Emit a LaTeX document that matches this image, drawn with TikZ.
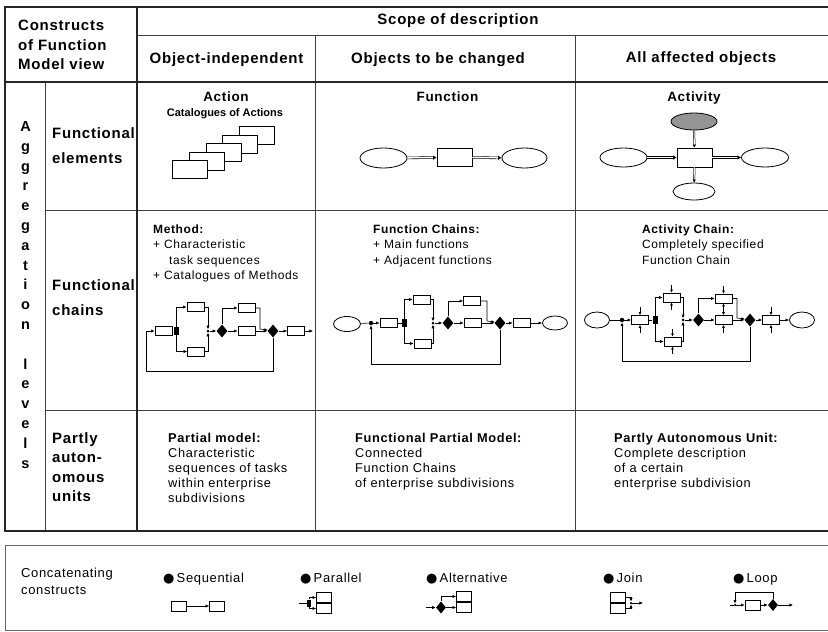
\documentclass[tikz,border=0pt]{standalone}
\usepackage{fontspec}
\setmainfont{Liberation Sans}[LetterSpace=5]
\newfontfamily\plainsans{Liberation Sans}
\newfontfamily\dvs{DejaVu Sans}
\usetikzlibrary{shapes.geometric,arrows.meta,calc}
\newcommand\fHd{\fontsize{15}{19.5}\selectfont\bfseries}
\newcommand\fRow{\fontsize{15}{25}\selectfont\bfseries}
\newcommand\fRowb{\fontsize{15}{19.5}\selectfont\bfseries}
\newcommand\fBody{\fontsize{12}{15.5}\selectfont}
\newcommand\fPart{\fontsize{12.8}{15}\selectfont}
\newcommand\fTit{\fontsize{13.5}{16}\selectfont\bfseries}
\newcommand\fLeg{\fontsize{13}{16.5}\selectfont}
\begin{document}
\begin{tikzpicture}[x=1pt,y=-1pt,
  thickl/.style={line width=2.3pt,black!85},
  thinl/.style={line width=0.9pt,black!75},
  fb/.style={draw,fill=white,line width=0.7pt,minimum width=17pt,minimum height=9pt,inner sep=0pt},
  lb/.style={draw,fill=white,line width=0.7pt,minimum width=15pt,minimum height=10pt,inner sep=0pt},
  sq/.style={fill=black,minimum width=5pt,minimum height=8pt,inner sep=0pt},
  dm/.style={diamond,fill=black,minimum width=11pt,minimum height=13pt,inner sep=0pt},
  jn/.style={circle,fill=black,minimum size=3pt,inner sep=0pt},
  el/.style={ellipse,draw,line width=0.8pt,fill=white,inner sep=0pt},
  bigbox/.style={draw,fill=white,line width=0.8pt,inner sep=0pt,minimum width=35pt,minimum height=18pt},
  ar/.style={line width=0.6pt,-{Latex[length=3.6pt,width=3.2pt]}},
  ln/.style={line width=0.6pt},
  dar/.style={double,double distance=1.4pt,line width=0.55pt,-{Latex[length=3.5pt,width=4.5pt]}},
  vdar/.style={double,double distance=1pt,line width=0.5pt,-{Latex[length=3pt,width=3.5pt]}},
  stub/.style={line width=0.6pt,-{Latex[length=3pt,width=3pt]}},
  hd/.style={font=\fHd,inner sep=0pt},
  tx/.style={font=\fBody,inner sep=0pt,align=left,anchor=north west},
  px/.style={font=\fPart,inner sep=0pt,align=left,anchor=north west},
  tt/.style={font=\fTit,inner sep=0pt,anchor=base},
  lg/.style={font=\fLeg,inner sep=0pt,anchor=base west}
]
\useasboundingbox (0,0) rectangle (828,632);
\fill[white] (0,0) rectangle (828,632);

% ---------------- table lines
\draw[thinl] (137,35) -- (830,35);
\draw[thinl] (315,35) -- (315,531);
\draw[thinl] (575,35) -- (575,531);
\draw[thinl] (45,82) -- (45,531);
\draw[thinl] (45,210) -- (830,210);
\draw[thinl] (45,410) -- (830,410);
\draw[thickl] (137,7) -- (137,531);
\draw[thickl] (5,82) -- (830,82);
\draw[thickl] (830,7) -- (5,7) -- (5,531);
\draw[line width=2.8pt,black!85] (3.6,531) -- (830,531);

% ---------------- header texts
\node[hd,anchor=north west,align=left] (cons) at (18,20) {Constructs\\of Function\\Model view};
\node[hd,anchor=base] (scope) at (458,24) {Scope of description};
\node[hd,anchor=base] (col1) at (226.5,63.5) {Object-independent};
\node[hd,anchor=base] (col2) at (438,63.5) {Objects to be changed};
\node[hd,anchor=base] (col3) at (701,62) {All affected objects};

% vertical "Aggregation levels"
\foreach \c [count=\i from 0] in {A,g,g,r,e,g,a,t,i,o,n,{},l,e,v,e,l,s}
  \node[font=\fontsize{14.5}{16}\selectfont\bfseries,inner sep=0pt,anchor=base] (ag\i) at (25.5,{131.5+19.8*\i}) {\c};

% row labels
\node[font=\fRow,inner sep=0pt,align=left,anchor=north west] (row1) at (52,127.6) {Functional\\elements};
\node[font=\fRow,inner sep=0pt,align=left,anchor=north west] (row2) at (52,279.1) {Functional\\chains};
\node[font=\fRowb,inner sep=0pt,align=left,anchor=north west] (row3) at (52,432) {Partly\\auton-\\omous\\units};

% ---------------- functional elements
\node[tt] (tact) at (226,101.7) {Action};
\node[font=\fontsize{11}{13}\selectfont\plainsans\bfseries,inner sep=0pt,anchor=base] (tcat) at (225,116) {Catalogues of Actions};
\foreach \k in {4,3,2,1,0}
  \node[bigbox] (acr\k) at ({190+16.7*\k},{169.5-8.5*\k}) {};

\node[tt] (tfun) at (447.5,101.7) {Function};
\node[el,minimum width=47pt,minimum height=20pt] (fnl) at (383.5,158) {};
\node[bigbox] (fnr) at (454.5,157.5) {};
\node[el,minimum width=45pt,minimum height=20pt] (fnrt) at (524.5,158) {};
\draw[dar] (fnl) -- (fnr);
\draw[dar] (fnr) -- (fnrt);

\node[tt] (tacv) at (694,101.5) {Activity};
\node[el,minimum width=46pt,minimum height=17pt,fill=black!42] (acsh) at (694,121.5) {};
\node[bigbox,minimum height=19pt] (acr) at (694.5,157.5) {};
\node[el,minimum width=47pt,minimum height=19pt] (acl) at (623.5,157.5) {};
\node[el,minimum width=47pt,minimum height=19pt] (acrt) at (765,157.5) {};
\node[el,minimum width=42pt,minimum height=17pt] (acb) at (694,191.5) {};
\draw[dar] (acl) -- (acr);
\draw[dar] (acr) -- (acrt);
\draw[vdar] (acsh) -- (acr);
\draw[vdar] (acr) -- (acb);

% ---------------- functional chains texts
\node[tx] (tmeth) at (153,224.2) {\textbf{Method:}\\+ Characteristic\\\hspace*{16pt}task sequences\\+ Catalogues of Methods};
\node[tx] (tfch) at (373,224.2) {\textbf{Function Chains:}\\+ Main functions\\+ Adjacent functions};
\node[tx] (tach) at (642,224.2) {\textbf{Activity Chain:}\\Completely specified\\Function Chain};

% ---------------- method chain
\coordinate (mi) at (146,331);
\coordinate (mlc) at (146,371);
\node[fb] (mb1) at (163.5,331) {};
\node[sq] (ms) at (176,331) {};
\node[fb] (mb2) at (195.5,307) {};
\node[fb] (mb3) at (196,351.5) {};
\node[jn] (mj) at (208,331) {};
\node[dm] (md1) at (222,331) {};
\node[fb] (mb4) at (246.5,308) {};
\node[fb] (mb5) at (246.5,331) {};
\coordinate (mk) at (260,329);
\node[dm] (md2) at (273,331) {};
\node[fb] (mb6) at (296,331) {};
\coordinate (mo) at (313,331);
\draw[ar] (mi) -- (mb1);
\draw[ln] (mb1) -- (ms);
\draw[ar] (ms) |- (mb2);
\draw[ar] (ms) |- (mb3);
\draw[ar] (mb2) -| (mj);
\draw[ar] (mb3) -| (mj);
\draw[ar] (mj) -- (md1);
\draw[ar] (md1) |- (mb4);
\draw[ar] (md1) -- (mb5);
\draw[ar] (mb4) -| (mk) -- (md2);
\draw[ar] (mb5) -- (md2);
\draw[ar] (md2) -- (mb6);
\draw[ar] (mb6) -- (mo);
\draw[ln] (md2) |- (mlc) -- (mi);

% ---------------- function chain
\node[el,minimum width=27pt,minimum height=15pt] (fe1) at (347,324) {};
\node[jn,minimum size=4.5pt] (fm) at (371,323) {};
\coordinate (flc) at (371,364);
\node[fb] (fb1) at (388.5,323) {};
\node[sq] (fs) at (404.5,323) {};
\node[fb] (fb2) at (421.5,299.5) {};
\node[fb] (fb3) at (422.5,343.5) {};
\node[jn] (fj) at (433,323) {};
\node[dm] (fd1) at (448,323) {};
\node[fb] (fb4) at (472,301) {};
\node[fb] (fb5) at (472.5,323) {};
\coordinate (fk) at (487,321);
\node[dm] (fd2) at (500,323) {};
\node[fb] (fb6) at (521.5,323) {};
\node[el,minimum width=25pt,minimum height=14pt] (fe2) at (555,323) {};
\draw[ln] (fe1) -- (fm);
\draw[ar] (fm) -- (fb1);
\draw[ln] (fb1) -- (fs);
\draw[ar] (fs) |- (fb2);
\draw[ar] (fs) |- (fb3);
\draw[ar] (fb2) -| (fj);
\draw[ar] (fb3) -| (fj);
\draw[ar] (fj) -- (fd1);
\draw[ar] (fd1) |- (fb4);
\draw[ar] (fd1) -- (fb5);
\draw[ar] (fb4) -| (fk) -- (fd2);
\draw[ar] (fb5) -- (fd2);
\draw[ar] (fd2) -- (fb6);
\draw[ar] (fb6) -- (fe2);
\draw[ar] (fd2) |- (flc) -- (fm);

% ---------------- activity chain
\node[el,minimum width=25pt,minimum height=16pt] (ae1) at (597,320) {};
\node[jn,minimum size=4.5pt] (am) at (622,320) {};
\coordinate (alc) at (622,361);
\node[fb] (ab1) at (640,320) {};
\node[sq] (as) at (655,320) {};
\node[fb] (ab2) at (671.5,297.5) {};
\node[fb] (ab3) at (672.5,341.5) {};
\node[jn] (aj) at (683,320) {};
\node[dm] (ad1) at (698.5,320) {};
\node[fb] (ab4) at (723.5,298.5) {};
\node[fb] (ab5) at (723.5,320) {};
\coordinate (ak) at (737,318);
\node[dm] (ad2) at (750,320) {};
\node[fb] (ab6) at (771,320) {};
\node[el,minimum width=25pt,minimum height=16pt] (ae2) at (802,320) {};
\draw[ln] (ae1) -- (am);
\draw[ar] (am) -- (ab1);
\draw[ln] (ab1) -- (as);
\draw[ar] (as) |- (ab2);
\draw[ar] (as) |- (ab3);
\draw[ar] (ab2) -| (aj);
\draw[ar] (ab3) -| (aj);
\draw[ar] (aj) -- (ad1);
\draw[ar] (ad1) |- (ab4);
\draw[ar] (ad1) -- (ab5);
\draw[ar] (ab4) -| (ak) -- (ad2);
\draw[ar] (ab5) -- (ad2);
\draw[ar] (ad2) -- (ab6);
\draw[ar] (ab6) -- (ae2);
\draw[ar] (ad2) |- (alc) -- (am);
\foreach \n in {ab1,ab2,ab3,ab6} {
  \draw[stub] ([yshift=8pt]\n.north) -- (\n.north);
  \draw[stub] ([yshift=-8pt]\n.south) -- (\n.south);
}
\draw[stub] ([yshift=8pt]ab4.north) -- (ab4.north);
\draw[stub] ([yshift=-8pt]ab5.south) -- (ab5.south);
\draw[line width=0.6pt,{Latex[length=3pt,width=3pt]}-{Latex[length=3pt,width=3pt]}] (ab4.south) -- (ab5.north);

% ---------------- partly autonomous units
\node[px] (tpm) at (168,433.2) {\textbf{Partial model:}\\Characteristic\\sequences of tasks\\within enterprise\\subdivisions};
\node[px] (tfpm) at (355,433.2) {\textbf{Functional Partial Model:}\\Connected\\Function Chains\\of enterprise subdivisions};
\node[px] (tpau) at (614,433.2) {\textbf{Partly Autonomous Unit:}\\Complete description\\of a certain\\enterprise subdivision};

% ---------------- legend
\draw[line width=0.8pt,black!60] (830,545) -- (5,545) -- (5,630.5) -- (830,630.5);
\node[font=\fLeg,inner sep=0pt,align=left,anchor=north west] (conc) at (21,568.2) {Concatenating\\constructs};
\node[lg] (lseq) at (163,582) {{\dvs ●}\,Sequential};
\node[lg] (lpar) at (300,582) {{\dvs ●}\,Parallel};
\node[lg] (lalt) at (426,582) {{\dvs ●}\,Alternative};
\node[lg] (ljoin) at (603,582) {{\dvs ●}\,Join};
\node[lg] (lloop) at (733,582) {{\dvs ●}\,Loop};

% sequential
\node[lb] (sq1) at (179,606) {};
\node[lb] (sq2) at (217,606) {};
\draw[ar] (sq1) -- (sq2);
% parallel
\coordinate (pin) at (299,603);
\node[sq,minimum width=4pt,minimum height=7pt] (ps) at (309,603) {};
\node[lb] (pb1) at (324,597.5) {};
\node[lb] (pb2) at (324,608.5) {};
\draw[ln] (pin) -- (ps);
\draw[ar] (ps) |- (pb1);
\draw[ar] (ps) |- (pb2);
% alternative
\coordinate (ain) at (426,607.5);
\node[dm,minimum width=10pt,minimum height=12pt] (ad) at (441,607.5) {};
\node[lb] (alb1) at (464,596.5) {};
\node[lb] (alb2) at (464,607.5) {};
\draw[ar] (ain) -- (ad);
\draw[ar] (ad) |- (alb1);
\draw[ar] (ad) -- (alb2);
% join
\node[lb] (jb1) at (617.5,597.5) {};
\node[lb] (jb2) at (617.5,608.5) {};
\node[jn,minimum size=2.5pt] (jj) at (631,603) {};
\coordinate (jo) at (643,603);
\draw[ar] (jb1) -| (jj);
\draw[ar] (jb2) -| (jj);
\draw[ar] (jj) -- (jo);
% loop
\coordinate (li) at (730,605);
\node[jn,minimum size=2.5pt] (lm) at (735,605) {};
\coordinate (llc) at (735,592);
\node[lb] (lbx) at (752.5,605) {};
\node[dm,minimum width=10pt,minimum height=12pt] (ld) at (773,605) {};
\coordinate (lo) at (793,605);
\draw[ln] (li) -- (lm);
\draw[ar] (lm) -- (lbx);
\draw[ar] (lbx) -- (ld);
\draw[ar] (ld) -- (lo);
\draw[ar] (ld) |- (llc) -- (lm);
\end{tikzpicture}
\end{document}
